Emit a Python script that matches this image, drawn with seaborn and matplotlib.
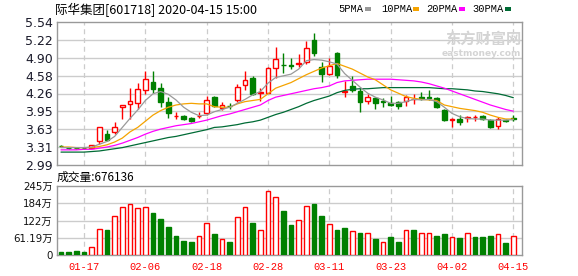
import numpy as np
import pandas as pd
import matplotlib
matplotlib.use('Agg')
import matplotlib.pyplot as plt
from matplotlib.patches import Rectangle
import seaborn as sns

# ---------------- data ----------------
title = '际华集团[601718] 2020-04-15 15:00'
vol_label = '成交量:676136'

dates = ['01-14', '01-15', '01-16', '01-17', '01-20', '01-21', '01-22', '01-23',
         '02-03', '02-04', '02-05', '02-06', '02-07', '02-10', '02-11', '02-12',
         '02-13', '02-14', '02-17', '02-18', '02-19', '02-20', '02-21', '02-24',
         '02-25', '02-26', '02-27', '02-28', '03-02', '03-03', '03-04', '03-05',
         '03-06', '03-09', '03-10', '03-11', '03-12', '03-13', '03-16', '03-17',
         '03-18', '03-19', '03-20', '03-23', '03-24', '03-25', '03-26', '03-27',
         '03-30', '03-31', '04-01', '04-02', '04-03', '04-07', '04-08', '04-09',
         '04-10', '04-13', '04-14', '04-15']

opens = [3.33, 3.30, 3.30, 3.30, 3.30, 3.41, 3.54, 3.57, 4.03, 4.07,
         4.10, 4.32, 4.47, 4.36, 4.12, 3.86, 3.87, 3.82, 3.86, 3.91,
         4.20, 4.00, 4.05, 4.15, 4.41, 4.54, 4.28, 4.27, 4.72, 4.78,
         4.78, 4.79, 4.83, 5.22, 4.73, 4.61, 4.99, 4.30, 4.39, 4.31,
         4.14, 4.18, 4.14, 4.10, 4.11, 4.14, 4.16, 4.20, 4.20, 4.18,
         3.97, 3.80, 3.81, 3.83, 3.84, 3.87, 3.79, 3.69, 3.80, 3.82]
highs = [3.34, 3.31, 3.31, 3.31, 3.35, 3.66, 3.61, 3.76, 4.06, 4.36,
         4.46, 4.67, 4.67, 4.46, 4.20, 3.93, 3.88, 3.84, 3.94, 4.22,
         4.22, 4.11, 4.09, 4.44, 4.67, 4.58, 4.36, 4.73, 5.10, 4.98,
         4.89, 4.97, 5.21, 5.35, 4.83, 4.89, 5.01, 4.48, 4.57, 4.36,
         4.26, 4.21, 4.19, 4.22, 4.13, 4.24, 4.25, 4.29, 4.33, 4.21,
         3.98, 3.82, 3.88, 3.86, 3.88, 3.88, 3.81, 3.84, 3.81, 3.88]
lows = [3.31, 3.28, 3.28, 3.28, 3.29, 3.36, 3.42, 3.54, 3.81, 3.81,
        3.98, 4.26, 4.28, 4.02, 3.82, 3.81, 3.80, 3.76, 3.83, 3.88,
        4.02, 3.97, 3.99, 4.12, 4.33, 4.24, 4.13, 4.27, 4.55, 4.63,
        4.70, 4.74, 4.79, 4.93, 4.47, 4.60, 4.55, 4.21, 4.30, 3.94,
        4.08, 3.98, 4.03, 4.04, 3.98, 4.04, 4.07, 4.15, 4.15, 4.00,
        3.78, 3.67, 3.70, 3.76, 3.78, 3.80, 3.65, 3.64, 3.76, 3.77]
closes = [3.32, 3.29, 3.29, 3.29, 3.34, 3.66, 3.43, 3.67, 4.06, 4.13,
          4.34, 4.52, 4.35, 4.12, 3.91, 3.87, 3.81, 3.77, 3.87, 4.15,
          4.04, 4.06, 4.04, 4.38, 4.50, 4.26, 4.29, 4.72, 4.88, 4.77,
          4.75, 4.80, 5.07, 4.98, 4.61, 4.76, 4.60, 4.31, 4.33, 4.12,
          4.20, 4.10, 4.11, 4.06, 4.05, 4.20, 4.17, 4.19, 4.19, 4.02,
          3.79, 3.81, 3.76, 3.84, 3.85, 3.81, 3.66, 3.81, 3.78, 3.81]

# volume in 万 (10k shares)
volumes = [12, 12, 15, 12, 27, 91, 89, 138, 169, 181,
           166, 169, 149, 128, 99, 67, 50, 46, 66, 112,
           74, 56, 46, 134, 169, 114, 88, 226, 205, 156,
           106, 123, 173, 181, 138, 110, 89, 96, 84, 78,
           78, 57, 46, 64, 46, 89, 89, 78, 78, 67,
           74, 64, 60, 78, 64, 64, 67, 74, 43, 67.61]
vol_up = [0, 0, 0, 0, 1, 1, 0, 1, 1, 1,
          1, 1, 0, 0, 0, 0, 0, 0, 1, 1,
          0, 1, 0, 1, 1, 0, 1, 1, 1, 0,
          0, 1, 1, 0, 0, 1, 0, 0, 1, 0,
          1, 0, 1, 0, 0, 1, 0, 1, 1, 0,
          0, 1, 0, 1, 0, 0, 0, 1, 0, 1]

ma5 = [3.30, 3.30, 3.30, 3.30, 3.31, 3.36, 3.41, 3.50, 3.66, 3.82,
       3.97, 4.14, 4.26, 4.30, 4.25, 4.15, 4.02, 3.93, 3.87, 3.88,
       3.94, 3.98, 4.02, 4.09, 4.16, 4.24, 4.30, 4.45, 4.55, 4.58,
       4.61, 4.70, 4.85, 4.87, 4.86, 4.83, 4.79, 4.62, 4.50, 4.38,
       4.27, 4.20, 4.15, 4.09, 4.09, 4.12, 4.16, 4.15, 4.16, 4.12,
       4.02, 3.91, 3.85, 3.82, 3.81, 3.81, 3.79, 3.79, 3.79, 3.80]
ma10 = [3.31, 3.31, 3.30, 3.30, 3.30, 3.32, 3.35, 3.40, 3.47, 3.58,
        3.66, 3.77, 3.88, 3.96, 4.02, 4.06, 4.08, 4.09, 4.08, 4.08,
        4.03, 4.02, 4.02, 4.08, 4.12, 4.14, 4.16, 4.26, 4.36, 4.41,
        4.46, 4.53, 4.60, 4.66, 4.72, 4.76, 4.80, 4.75, 4.70, 4.63,
        4.56, 4.51, 4.42, 4.33, 4.27, 4.21, 4.18, 4.16, 4.15, 4.14,
        4.06, 4.03, 4.00, 3.98, 3.96, 3.93, 3.88, 3.84, 3.81, 3.81]
ma20 = [3.26, 3.26, 3.26, 3.27, 3.27, 3.29, 3.31, 3.34, 3.38, 3.43,
        3.48, 3.54, 3.59, 3.63, 3.66, 3.69, 3.71, 3.73, 3.76, 3.79,
        3.83, 3.87, 3.90, 3.94, 3.98, 4.02, 4.06, 4.14, 4.20, 4.23,
        4.26, 4.29, 4.32, 4.35, 4.37, 4.40, 4.46, 4.49, 4.50, 4.51,
        4.52, 4.52, 4.52, 4.52, 4.51, 4.50, 4.49, 4.47, 4.44, 4.40,
        4.36, 4.31, 4.26, 4.21, 4.16, 4.11, 4.06, 4.02, 3.98, 3.95]
ma30 = [3.22, 3.22, 3.22, 3.22, 3.23, 3.24, 3.26, 3.28, 3.30, 3.33,
        3.36, 3.39, 3.42, 3.45, 3.48, 3.50, 3.53, 3.56, 3.59, 3.62,
        3.66, 3.67, 3.69, 3.71, 3.74, 3.76, 3.79, 3.84, 3.89, 3.93,
        3.98, 4.03, 4.09, 4.14, 4.18, 4.22, 4.28, 4.32, 4.34, 4.35,
        4.35, 4.36, 4.37, 4.37, 4.37, 4.37, 4.37, 4.37, 4.37, 4.36,
        4.35, 4.35, 4.34, 4.33, 4.31, 4.30, 4.28, 4.26, 4.23, 4.19]

ma_names = ['5PMA', '10PMA', '20PMA', '30PMA']
price_tick_labels = ['2.99', '3.31', '3.63', '3.95', '4.26', '4.58', '4.90', '5.22', '5.54']
vol_tick_labels = ['0', '61.19万', '122万', '184万', '245万']
vol_max = 244.76
xtick_dates = ['01-17', '02-06', '02-18', '02-28', '03-11', '03-23', '04-02', '04-15']

# ---------------- styling ----------------
sns.set_style('white')
plt.rcParams['font.family'] = ['DejaVu Sans', 'Noto Sans CJK SC']

RED = '#ff0000'
GREEN = '#008000'
ma_colors = {'5PMA': '#999999', '10PMA': '#f5a300', '20PMA': '#ff00ff', '30PMA': '#006b35'}
GRID = '#cccccc'
SPINE = '#999999'

W, H = 578, 276
fig = plt.figure(figsize=(W / 100, H / 100), dpi=100)
fig.patch.set_facecolor('white')

L, R = 57, 522
ax = fig.add_axes([L / W, 1 - 165 / H, (R - L) / W, (165 - 22) / H])
axv = fig.add_axes([L / W, 1 - 255 / H, (R - L) / W, (255 - 186) / H])

x = np.arange(len(dates))
xlim = (-0.52, 60.13)
ymin = float(price_tick_labels[0])
ymax = float(price_tick_labels[-1])
xt_idx = [dates.index(d) for d in xtick_dates]

for a in (ax, axv):
    a.set_xlim(*xlim)
    for s in a.spines.values():
        s.set_color(SPINE)
        s.set_linewidth(1.0)
    for xi in xt_idx:
        a.axvline(xi, color=GRID, lw=0.9, dashes=(4, 3), zorder=0.5)

# ----- price panel -----
ax.set_ylim(ymin, ymax)
pt = np.linspace(ymin, ymax, len(price_tick_labels))
for yv in pt[1:-1]:
    ax.axhline(yv, color=GRID, lw=1.0, zorder=0.5)
ax.set_yticks(pt)
ax.set_yticklabels(price_tick_labels, fontsize=9, color='#1a1a2a')
ax.tick_params(axis='y', direction='in', length=3, color=SPINE, pad=3)
ax.set_xticks([])

o = np.array(opens); c = np.array(closes)
hi = np.array(highs); lo = np.array(lows)
up = c >= o
ax.vlines(x[up], lo[up], hi[up], color=RED, lw=1.0, zorder=2)
ax.vlines(x[~up], lo[~up], hi[~up], color=GREEN, lw=1.0, zorder=2)
bw = 0.62
ax.bar(x[up], np.abs(c - o)[up], bottom=np.minimum(o, c)[up], width=bw,
       facecolor='white', edgecolor=RED, linewidth=1.0, zorder=3)
ax.bar(x[~up], np.abs(c - o)[~up], bottom=np.minimum(o, c)[~up], width=bw,
       facecolor=GREEN, edgecolor=GREEN, linewidth=1.0, zorder=3)

df = pd.DataFrame({
    'idx': np.tile(x, 4),
    'value': ma5 + ma10 + ma20 + ma30,
    'ma': np.repeat(ma_names, len(x)),
})
sns.lineplot(data=df, x='idx', y='value', hue='ma', hue_order=ma_names[::-1],
             palette=ma_colors, ax=ax, legend=False, linewidth=0.9, zorder=4)
ax.set_xlabel('')
ax.set_ylabel('')
ax.set_xlim(*xlim)

# watermark
ax.text(0.998, 0.88, '东方财富网', transform=ax.transAxes, ha='right', va='center',
        fontsize=11, color='#d4d4d4', family=['Noto Sans CJK SC'], fontweight='bold', zorder=1)
ax.text(0.998, 0.78, 'eastmoney.com', transform=ax.transAxes, ha='right', va='center',
        fontsize=6.5, color='#d4d4d4', fontweight='bold', zorder=1)

# ----- volume panel -----
v = np.array(volumes)
vu = np.array(vol_up).astype(bool)
axv.set_ylim(0, vol_max)
vt = np.linspace(0, vol_max, len(vol_tick_labels))
for yv in vt[1:-1]:
    axv.axhline(yv, color=GRID, lw=1.0, zorder=0.5)
axv.bar(x[vu], v[vu], width=bw, facecolor='white', edgecolor=RED, linewidth=1.0, zorder=3)
axv.bar(x[~vu], v[~vu], width=bw, facecolor=GREEN, edgecolor=GREEN, linewidth=1.0, zorder=3)
axv.set_yticks(vt)
axv.set_yticklabels(vol_tick_labels, fontsize=7.4, color='#111111',
                    family=['DejaVu Sans', 'Noto Sans CJK SC'])
axv.tick_params(axis='y', direction='in', length=3, color=SPINE, pad=3)
axv.set_xticks(xt_idx)
axv.set_xticklabels(xtick_dates, fontsize=7.5, color=RED, family=['Liberation Mono'])
axv.tick_params(axis='x', length=0, pad=5)

# ----- header texts -----
fig.text(55 / W, 1 - 10 / H, title, ha='left', va='center', fontsize=9,
         family=['Noto Sans CJK SC', 'DejaVu Sans'], color='#000000')
fig.text(57 / W, 1 - 177 / H, vol_label, ha='left', va='center', fontsize=8.5,
         family=['Noto Sans CJK SC', 'DejaVu Sans'], color='#000000')

leg_x = [338, 381, 426, 472]
sq_x = [365, 413, 459, 505]
for name, lx, sx in zip(ma_names, leg_x, sq_x):
    fig.text(lx / W, 1 - 9 / H, name, ha='left', va='center', fontsize=7.5,
             family=['Liberation Mono'], color='#000000')
    fig.patches.append(Rectangle((sx / W, 1 - 11 / H), 5.5 / W, 4 / H,
                                 transform=fig.transFigure, facecolor=ma_colors[name],
                                 edgecolor='none'))

fig.savefig('out.png', dpi=100)
